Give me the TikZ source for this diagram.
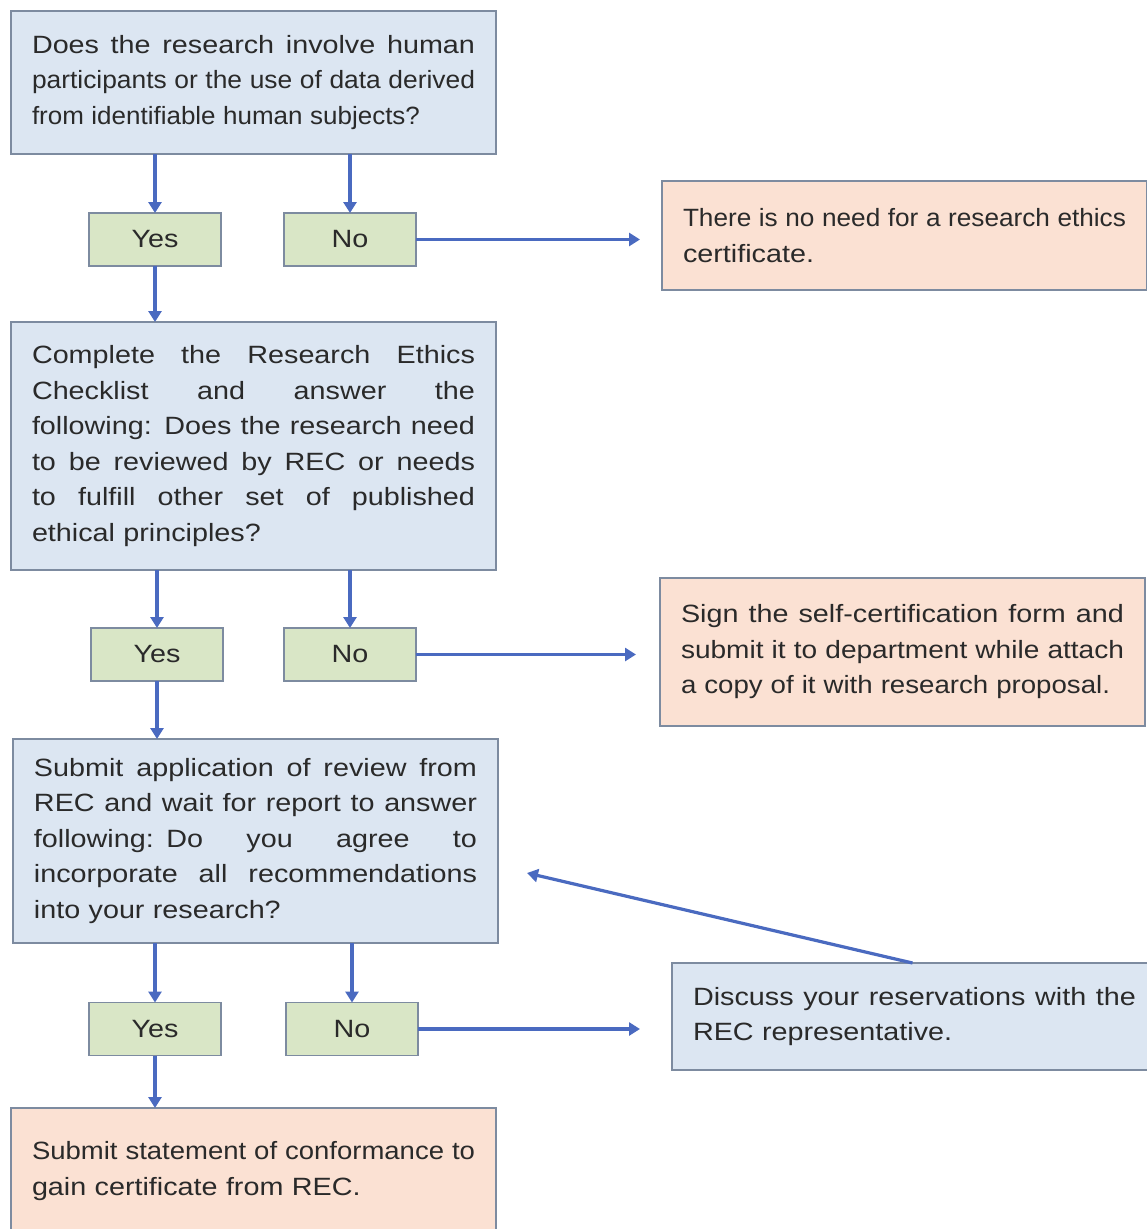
\documentclass[tikz,border=0pt]{standalone}
\usepackage{fontspec}
\setmainfont{Liberation Sans}[FakeStretch=1.15]
\usepackage{graphicx}
\usetikzlibrary{arrows.meta}
\definecolor{bfill}{HTML}{DCE6F2}
\definecolor{gfill}{HTML}{D9E6C6}
\definecolor{ofill}{HTML}{FBE1D3}
\definecolor{bord}{HTML}{7D8BA0}
\definecolor{arr}{HTML}{4A6AC0}
\definecolor{txt}{HTML}{2A2A2A}
\newsavebox\myflbox
\newcommand\fl[1]{\leavevmode\sbox\myflbox{#1}\ifdim\wd\myflbox>443pt\resizebox{443pt}{\height}{#1}\else\hbox to 443pt{\spaceskip=0.28em plus 1fil\relax #1}\fi}
\newcommand\sq[2]{\leavevmode\resizebox{#1}{\height}{#2}}
\tikzset{
  base/.style={draw=bord, line width=1.8pt, text=txt, font=\fontsize{25}{35.5}\selectfont, outer sep=0pt},
  bigbox/.style={base, text width=443pt, inner xsep=21pt, align=left},
  bluebox/.style={bigbox, fill=bfill},
  orabox/.style={bigbox, fill=ofill},
  ynbox/.style={base, fill=gfill, minimum width=132pt, minimum height=53pt, inner sep=0pt},
  conn/.style={draw=arr, line width=3.2pt, -{Triangle[width=13pt,length=11pt]}}
}
\begin{document}
\begin{tikzpicture}[x=1pt,y=-1pt]
\useasboundingbox[fill=white] (0,0) rectangle (1147,1229);
% main column
\node[bluebox, minimum height=143pt] (q1) at (253.5,82.5)
 {\fl{Does the research involve human}\\\fl{participants or the use of data derived}\\\sq{388pt}{from identifiable human subjects?}};
\node[ynbox] (yes1) at (155,239.5) {Yes};
\node[ynbox] (no1) at (350,239.5) {No};
\node[orabox, minimum height=109pt] (ora1) at (904.5,235.5)
 {\fl{There is no need for a research ethics}\\certificate.};
\node[bluebox, minimum height=248pt] (q2) at (253.5,446)
 {\fl{Complete the Research Ethics}\\\fl{Checklist and answer the}\\\fl{following: Does the research need}\\\fl{to be reviewed by REC or needs}\\\fl{to fulfill other set of published}\\ethical principles?};
\node[ynbox] (yes2) at (157,654.5) {Yes};
\node[ynbox] (no2) at (350,654.5) {No};
\node[orabox, minimum height=148pt] (ora2) at (902.5,652)
 {\fl{Sign the self-certification form and}\\\fl{submit it to department while attach}\\\sq{429pt}{a copy of it with research proposal.}};
\node[bluebox, minimum height=204pt] (q3) at (255.5,841)
 {\fl{Submit application of review from}\\\fl{REC and wait for report to answer}\\\fl{following: Do you agree to}\\\fl{incorporate all recommendations}\\into your research?};
\node[ynbox] (yes3) at (155,1029) {Yes};
\node[ynbox] (no3) at (352,1029) {No};
\node[bluebox, minimum height=107pt] (disc) at (914.5,1016.5)
 {\fl{Discuss your reservations with the}\\REC representative.};
\node[orabox, minimum height=126pt] (fin) at (253.5,1171)
 {\fl{Submit statement of conformance to}\\gain certificate from REC.};
\coordinate (back) at (527,873);
% connectors
\draw[conn] (yes1.north |- q1.south) -- (yes1.north);
\draw[conn] (no1.north |- q1.south) -- (no1.north);
\draw[conn] (no1.east) -- ([xshift=-22pt]no1.east -| ora1.west);
\draw[conn] (yes1.south) -- (yes1.south |- q2.north);
\draw[conn] (yes2.north |- q2.south) -- (yes2.north);
\draw[conn] (no2.north |- q2.south) -- (no2.north);
\draw[conn] (no2.east) -- ([xshift=-24pt]no2.east -| ora2.west);
\draw[conn] (yes2.south) -- (yes2.south |- q3.north);
\draw[conn] (yes3.north |- q3.south) -- (yes3.north);
\draw[conn] (no3.north |- q3.south) -- (no3.north);
\draw[conn] (no3.east) -- ([xshift=-32pt]no3.east -| disc.west);
\draw[conn] (yes3.south) -- (yes3.south |- fin.north);
\draw[conn] ([xshift=-2pt]disc.north) -- (back);
\end{tikzpicture}
\end{document}
